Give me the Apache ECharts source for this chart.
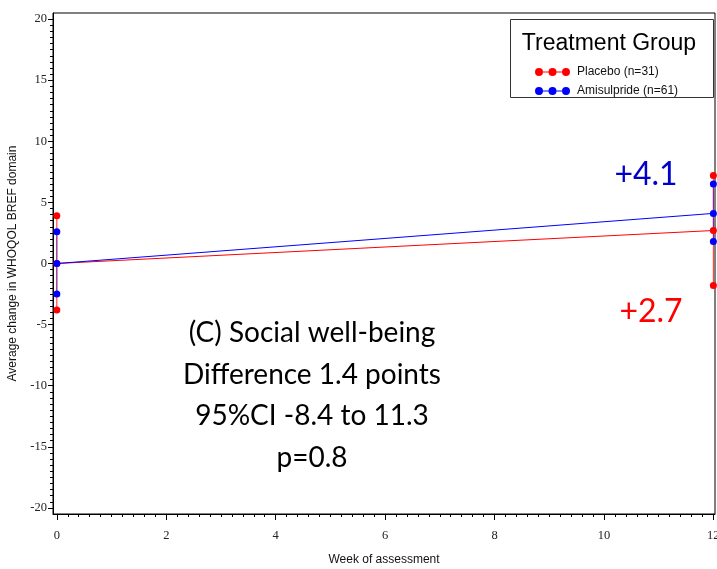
<!DOCTYPE html>
<html>
<head>
<meta charset="utf-8">
<script src="https://cdn.jsdelivr.net/npm/echarts@6/dist/echarts.min.js"></script>
<style>
html,body{margin:0;padding:0;background:#fff;}
#main{width:717px;height:569px;}
</style>
</head>
<body>
<div id="main"></div>
<script>
// ---- data ----
const weeks = [0, 12];
const placeboMean = [0, 2.7];
const placeboLower = [-3.8, -1.8];
const placeboUpper = [3.9, 7.2];
const amiMean = [0, 4.1];
const amiLower = [-2.5, 1.8];
const amiUpper = [2.6, 6.5];
const placeboName = 'Placebo (n=31)';
const amiName = 'Amisulpride (n=61)';
const yMajorTicks = [-20, -15, -10, -5, 0, 5, 10, 15, 20];
const xMajorTicks = [0, 2, 4, 6, 8, 10, 12];
const annotationLines = ['(C) Social well-being', 'Difference 1.4 points', '95%CI -8.4 to 11.3', 'p=0.8'];
const placeboLabel = '+2.7';
const amiLabel = '+4.1';

const RED = '#ff0000';
const BLUE = '#0000ff';

function range(a, b, step) {
  const out = [];
  const n = Math.round((b - a) / step);
  for (let i = 0; i <= n; i++) out.push(Math.round((a + i * step) * 1000) / 1000);
  return out;
}
const yMinorTicks = range(-20, 20, 0.5);
const xMinorTicks = range(0, 12, 0.2);

const chart = echarts.init(document.getElementById('main'), null, {renderer: 'canvas'});

const legendIcon = 'path://M8,3.5L13.5,3.5L13.5,4.5L8,4.5Z M21.5,3.5L27,3.5L27,4.5L21.5,4.5Z M0,4A4,4,0,1,0,8,4A4,4,0,1,0,0,4Z M13.5,4A4,4,0,1,0,21.5,4A4,4,0,1,0,13.5,4Z M27,4A4,4,0,1,0,35,4A4,4,0,1,0,27,4Z';

function meanSeries(name, color, vals, z) {
  return {
    name: name, type: 'line', xAxisIndex: 0, yAxisIndex: 0,
    data: weeks.map((w, i) => [w, vals[i]]),
    symbol: 'circle', symbolSize: 7,
    itemStyle: {color: color},
    lineStyle: {color: color, width: 1},
    z: z, animation: false, silent: true
  };
}
function barSeries(name, color, lo, hi, z, opacity) {
  return weeks.map((w, i) => ({
    name: name, type: 'line', xAxisIndex: 0, yAxisIndex: 0,
    data: [[w, lo[i]], [w, hi[i]]],
    symbol: 'circle', symbolSize: 7,
    itemStyle: {color: color},
    lineStyle: {color: color, width: 1, opacity: opacity},
    z: z, animation: false, silent: true
  }));
}

const series = [].concat(
  barSeries(placeboName, RED, placeboLower, placeboUpper, 2, 0.85),
  barSeries(amiName, BLUE, amiLower, amiUpper, 3, 0.55),
  [meanSeries(placeboName, RED, placeboMean, 4), meanSeries(amiName, BLUE, amiMean, 5)]
);

const tickLabelStyle = {fontFamily: 'Liberation Serif', fontSize: 12.5, color: '#222'};

const option = {
  animation: false,
  backgroundColor: '#fff',
  grid: {left: 53, right: 2, top: 13, bottom: 55, show: true, borderColor: '#000', borderWidth: 1, backgroundColor: 'transparent', containLabel: false, outerBoundsMode: 'none'},
  xAxis: [{
    type: 'value', min: -0.07, max: 12.03,
    name: 'Week of assessment', nameLocation: 'middle', nameGap: 40,
    nameTextStyle: {fontFamily: 'Liberation Sans', fontSize: 12, color: '#111'},
    axisLine: {show: true, onZero: false, lineStyle: {color: '#000', width: 1}},
    axisTick: {show: true, length: 6, lineStyle: {color: '#000'}, customValues: xMajorTicks},
    axisLabel: Object.assign({margin: 15, customValues: xMajorTicks}, tickLabelStyle),
    splitLine: {show: false}
  }, {
    type: 'value', min: -0.07, max: 12.03, position: 'bottom',
    axisLine: {show: false, onZero: false},
    axisTick: {show: true, length: 3, lineStyle: {color: '#000'}, customValues: xMinorTicks},
    axisLabel: {show: false},
    splitLine: {show: false}
  }],
  yAxis: [{
    type: 'value', min: -20.5, max: 20.5,
    name: 'Average change in WHOQOL BREF domain', nameLocation: 'middle', nameGap: 34,
    nameTextStyle: {fontFamily: 'Liberation Sans', fontSize: 12, color: '#111'},
    axisLine: {show: true, onZero: false, lineStyle: {color: '#000', width: 1}},
    axisTick: {show: true, length: 5, lineStyle: {color: '#000'}, customValues: yMajorTicks},
    axisLabel: Object.assign({margin: 6, customValues: yMajorTicks}, tickLabelStyle),
    splitLine: {show: false}
  }, {
    type: 'value', min: -20.5, max: 20.5, position: 'left',
    axisLine: {show: false, onZero: false},
    axisTick: {show: true, length: 3, lineStyle: {color: '#000'}, customValues: yMinorTicks},
    axisLabel: {show: false},
    splitLine: {show: false}
  }],
  legend: {
    data: [placeboName, amiName],
    orient: 'vertical', left: 535, top: 66, padding: 0,
    itemWidth: 35, itemHeight: 8, itemGap: 7,
    icon: legendIcon,
    textStyle: {fontFamily: 'Liberation Sans', fontSize: 12, color: '#111', padding: [0, 0, 0, 2]},
    selectedMode: false, z: 20
  },
  graphic: [
    {type: 'rect', left: 510, top: 19, shape: {width: 203, height: 78}, style: {fill: '#fff', stroke: '#333', lineWidth: 1}, z: 10},
    {type: 'text', x: 609, y: 44, style: {text: 'Treatment Group', font: '23px "Liberation Sans"', fill: '#000', align: 'center', verticalAlign: 'middle'}, z: 11},
    {type: 'text', x: 646, y: 175, style: {text: amiLabel, font: '32px Lato', fill: '#0000cc', align: 'center', verticalAlign: 'middle'}, z: 11},
    {type: 'text', x: 651, y: 312, style: {text: placeboLabel, font: '32px Lato', fill: '#ff0000', align: 'center', verticalAlign: 'middle'}, z: 11}
  ].concat(annotationLines.map((t, i) => ({
    type: 'text', x: 312, y: 333 + i * 41.5,
    style: {text: t, font: '28px Lato', fill: '#000', align: 'center', verticalAlign: 'middle'}, z: 11
  }))),
  series: series
};
chart.setOption(option);
</script>
</body>
</html>
